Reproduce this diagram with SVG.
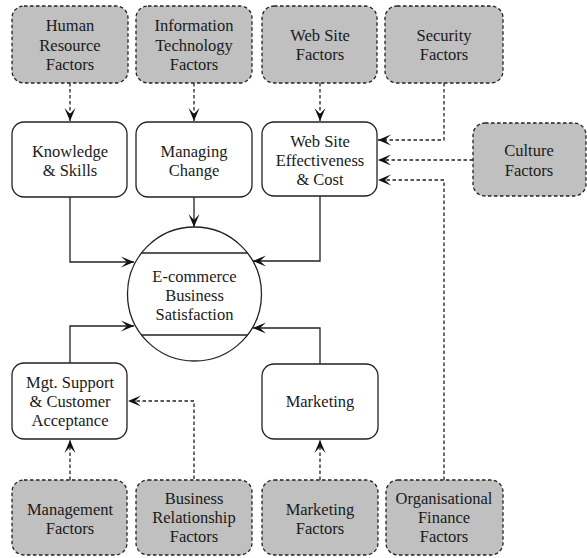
<svg xmlns="http://www.w3.org/2000/svg" width="587" height="558" viewBox="0 0 587 558">
  <style>
    .factor { fill: #c0c0c0; stroke: #222; stroke-width: 1.3; stroke-dasharray: 3.5 2.5; }
    .proc { fill: #fff; stroke: #222; stroke-width: 1.3; }
    text { font-family: "Liberation Serif", "Times New Roman", serif; font-size: 16.5px; fill: #1a1a1a; text-anchor: middle; }
    .solid { fill: none; stroke: #222; stroke-width: 1.3; marker-end: url(#arrow); }
    .dash { fill: none; stroke: #222; stroke-width: 1.3; stroke-dasharray: 3.5 2.5; marker-end: url(#arrow); }
  </style>
  <defs>
    <marker id="arrow" markerUnits="userSpaceOnUse" markerWidth="16" markerHeight="14" viewBox="-14 -7 16 14" refX="0" refY="0" orient="auto">
      <path d="M0,0 L-13,-5.5 L-7,0 L-13,5.5 Z" fill="#111"/>
    </marker>
  </defs>
  <rect width="587" height="558" fill="#fff"/>

  <!-- connectors -->
  <g id="connectors">
    <path class="dash" d="M70,83 V121"/>
    <path class="dash" d="M194,83 V121"/>
    <path class="dash" d="M320,83 V121"/>
    <path class="dash" d="M444,83 V140 H378"/>
    <path class="dash" d="M473,160 H378"/>
    <path class="dash" d="M444,480 V180 H378"/>
    <path class="dash" d="M194,479 V401 H128"/>
    <path class="dash" d="M70,480 V440"/>
    <path class="dash" d="M320,480 V440"/>
    <path class="solid" d="M70,197 V262 H134"/>
    <path class="solid" d="M194,197 V227"/>
    <path class="solid" d="M320,196 V261 H253"/>
    <path class="solid" d="M70,363 V326 H134"/>
    <path class="solid" d="M320,364 V328 H253"/>
  </g>

  <!-- top factors -->
  <g id="hr-factors">
    <rect class="factor" x="12" y="6" width="116" height="77" rx="12"/>
    <text x="70" y="31">Human</text><text x="70" y="51">Resource</text><text x="70" y="70">Factors</text>
  </g>
  <g id="it-factors">
    <rect class="factor" x="136" y="6" width="116" height="77" rx="12"/>
    <text x="194" y="31">Information</text><text x="194" y="51">Technology</text><text x="194" y="70">Factors</text>
  </g>
  <g id="web-factors">
    <rect class="factor" x="262" y="6" width="115" height="77" rx="12"/>
    <text x="320" y="41">Web Site</text><text x="320" y="60">Factors</text>
  </g>
  <g id="security-factors">
    <rect class="factor" x="385" y="6" width="118" height="77" rx="12"/>
    <text x="444" y="41">Security</text><text x="444" y="60">Factors</text>
  </g>

  <!-- middle processes -->
  <g id="knowledge">
    <rect class="proc" x="12" y="122" width="115" height="75" rx="12"/>
    <text x="70" y="157">Knowledge</text><text x="70" y="176">&amp; Skills</text>
  </g>
  <g id="managing-change">
    <rect class="proc" x="136" y="122" width="116" height="75" rx="12"/>
    <text x="194" y="157">Managing</text><text x="194" y="176">Change</text>
  </g>
  <g id="web-effectiveness">
    <rect class="proc" x="262" y="122" width="115" height="74" rx="12"/>
    <text x="320" y="147">Web Site</text><text x="320" y="166">Effectiveness</text><text x="320" y="185">&amp; Cost</text>
  </g>
  <g id="culture-factors">
    <rect class="factor" x="473" y="123" width="113" height="73" rx="12"/>
    <text x="529" y="156">Culture</text><text x="529" y="176">Factors</text>
  </g>

  <!-- centre -->
  <g id="satisfaction">
    <circle cx="194.5" cy="294" r="67" fill="#fff" stroke="#222" stroke-width="1.3"/>
    <line x1="141.5" y1="253" x2="247.5" y2="253" stroke="#222" stroke-width="1.3"/>
    <line x1="141.5" y1="335" x2="247.5" y2="335" stroke="#222" stroke-width="1.3"/>
    <text x="194.5" y="282">E-commerce</text><text x="194.5" y="301">Business</text><text x="194.5" y="320">Satisfaction</text>
  </g>

  <!-- lower processes -->
  <g id="mgt-support">
    <rect class="proc" x="12" y="363" width="115" height="76" rx="12"/>
    <text x="70" y="388">Mgt. Support</text><text x="70" y="407">&amp; Customer</text><text x="70" y="426">Acceptance</text>
  </g>
  <g id="marketing">
    <rect class="proc" x="262" y="364" width="116" height="75" rx="12"/>
    <text x="320" y="407">Marketing</text>
  </g>

  <!-- bottom factors -->
  <g id="management-factors">
    <rect class="factor" x="12" y="480" width="115" height="75" rx="12"/>
    <text x="70" y="515">Management</text><text x="70" y="534">Factors</text>
  </g>
  <g id="relationship-factors">
    <rect class="factor" x="136" y="480" width="116" height="75" rx="12"/>
    <text x="194" y="504">Business</text><text x="194" y="523">Relationship</text><text x="194" y="542">Factors</text>
  </g>
  <g id="marketing-factors">
    <rect class="factor" x="262" y="480" width="116" height="75" rx="12"/>
    <text x="320" y="515">Marketing</text><text x="320" y="534">Factors</text>
  </g>
  <g id="finance-factors">
    <rect class="factor" x="386" y="480" width="117" height="75" rx="12"/>
    <text x="444" y="504">Organisational</text><text x="444" y="523">Finance</text><text x="444" y="542">Factors</text>
  </g>
</svg>
